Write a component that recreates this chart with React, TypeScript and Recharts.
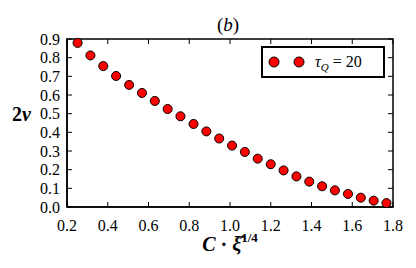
import React from 'react';
import { ScatterChart, Scatter, XAxis, YAxis, ReferenceArea, ReferenceLine, Customized } from 'recharts';

const xValues = [0.252, 0.315, 0.378, 0.441, 0.505, 0.568, 0.631, 0.694, 0.757, 0.821, 0.884, 0.947, 1.010, 1.073, 1.136, 1.200, 1.263, 1.326, 1.389, 1.452, 1.515, 1.579, 1.642, 1.705, 1.768];
const yValues = [0.879, 0.812, 0.755, 0.702, 0.654, 0.611, 0.568, 0.525, 0.486, 0.445, 0.405, 0.367, 0.329, 0.295, 0.259, 0.229, 0.196, 0.164, 0.136, 0.111, 0.089, 0.070, 0.050, 0.034, 0.021];
const xTicks = [0.2, 0.4, 0.6, 0.8, 1.0, 1.2, 1.4, 1.6, 1.8];
const yTicks = [0, 0.1, 0.2, 0.3, 0.4, 0.5, 0.6, 0.7, 0.8, 0.9];
const xMin = 0.2;
const xMax = 1.8;
const yMin = 0;
const yMax = 0.9;
const seriesLabel = ' = 20';

const data = xValues.map((x, i) => ({ x, y: yValues[i] }));

const FONT = "'Liberation Serif', 'DejaVu Serif', serif";
const TICK_DY = 0.0268; // inward tick length in y units
const TICK_DX = 0.0245; // inward tick length in x units

const fmt = (v: number) => v.toFixed(1);

const Labels = () => (
  <g fontFamily={FONT} fill="#000">
    <text x={228} y={31} fontSize={19} textAnchor="middle">
      (<tspan fontStyle="italic">b</tspan>)
    </text>
    <text x={12} y={121} fontSize={20} fontWeight="bold">
      2<tspan fontStyle="italic">v</tspan>
    </text>
    <text x={230} y={251} fontSize={20} fontWeight="bold" textAnchor="middle">
      <tspan fontStyle="italic">C</tspan> · <tspan fontStyle="italic">{'ξ\u0302'}</tspan>
      <tspan fontSize={13} dy={-9}>1/4</tspan>
    </text>
    <g transform="translate(261,46)">
      <rect x={1} y={1} width={122} height={30} fill="#fff" stroke="#000" strokeWidth={2} />
      <circle cx={13} cy={16} r={5} fill="#ff0000" stroke="#000" strokeWidth={1} />
      <circle cx={38} cy={16} r={5} fill="#ff0000" stroke="#000" strokeWidth={1} />
      <text x={54} y={21} fontSize={16}>
        <tspan fontStyle="italic">τ</tspan>
        <tspan fontStyle="italic" fontSize={11} dy={4}>Q</tspan>
        <tspan dy={-4}>{seriesLabel}</tspan>
      </text>
    </g>
  </g>
);

export default function App() {
  return (
    <div style={{ position: 'absolute', left: 0, top: 0, width: 416, height: 268, background: '#fff', fontFamily: FONT }}>
      <ScatterChart width={416} height={268} margin={{ top: 39, right: 23, left: 0, bottom: 0 }}>
        <XAxis
          dataKey="x"
          type="number"
          domain={[xMin, xMax]}
          height={61}
          tick={false}
          tickLine={false}
          stroke="#000"
          strokeWidth={1.5}
        />
        <YAxis
          dataKey="y"
          type="number"
          domain={[yMin, yMax]}
          width={67}
          tick={false}
          tickLine={false}
          stroke="#000"
          strokeWidth={1.5}
        />
        <ReferenceArea
          x1={xMin}
          x2={xMax}
          y1={yMin}
          y2={yMax}
          fill="none"
          fillOpacity={0}
          stroke="#000"
          strokeWidth={1.5}
          strokeOpacity={1}
        />
        {xTicks.map((t) => (
          <ReferenceLine
            key={'xb' + t}
            segment={[{ x: t, y: yMin }, { x: t, y: yMin + TICK_DY }]}
            stroke="#000"
            strokeWidth={1}
            label={{ value: fmt(t), position: 'bottom', offset: 13, fill: '#000', fontSize: 16, fontFamily: FONT }}
          />
        ))}
        {xTicks.map((t) => (
          <ReferenceLine key={'xt' + t} segment={[{ x: t, y: yMax }, { x: t, y: yMax - TICK_DY }]} stroke="#000" strokeWidth={1} />
        ))}
        {yTicks.map((t) => (
          <ReferenceLine
            key={'yl' + t}
            segment={[{ x: xMin, y: t }, { x: xMin + TICK_DX, y: t }]}
            stroke="#000"
            strokeWidth={1}
            label={{ value: fmt(t), position: 'left', offset: 7, fill: '#000', fontSize: 16, fontFamily: FONT }}
          />
        ))}
        {yTicks.map((t) => (
          <ReferenceLine key={'yr' + t} segment={[{ x: xMax, y: t }, { x: xMax - TICK_DX, y: t }]} stroke="#000" strokeWidth={1} />
        ))}
        <Scatter
          name="τQ = 20"
          data={data}
          fill="#ff0000"
          stroke="#000"
          strokeWidth={1}
          isAnimationActive={false}
        />
        <Customized component={Labels} />
      </ScatterChart>
    </div>
  );
}
